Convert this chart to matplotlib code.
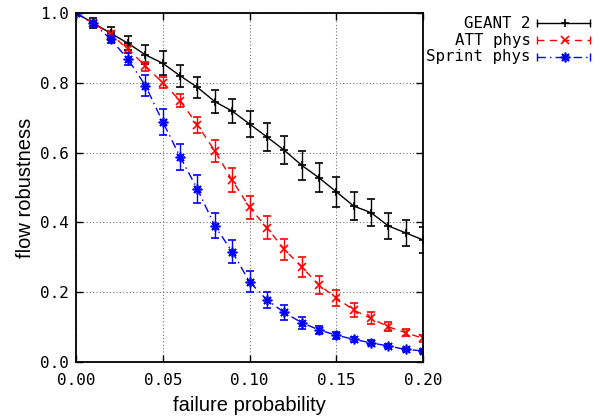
import numpy as np
import matplotlib.pyplot as plt
from matplotlib.lines import Line2D

# ======================================================================
# Data
# ======================================================================
p_fail = [0.00, 0.01, 0.02, 0.03, 0.04, 0.05, 0.06, 0.07, 0.08, 0.09, 0.10,
          0.11, 0.12, 0.13, 0.14, 0.15, 0.16, 0.17, 0.18, 0.19, 0.20]

geant_mean = [1.000, 0.971, 0.942, 0.913, 0.880, 0.856, 0.820, 0.787, 0.746, 0.719, 0.682,
              0.645, 0.607, 0.564, 0.528, 0.488, 0.447, 0.428, 0.390, 0.370, 0.350]
geant_err = [0.000, 0.014, 0.019, 0.020, 0.027, 0.034, 0.032, 0.031, 0.033, 0.035, 0.038,
             0.040, 0.041, 0.042, 0.042, 0.043, 0.040, 0.039, 0.038, 0.037, 0.037]

att_mean = [1.000, 0.970, 0.939, 0.896, 0.848, 0.800, 0.749, 0.679, 0.605, 0.521, 0.443,
            0.385, 0.323, 0.273, 0.221, 0.184, 0.149, 0.125, 0.101, 0.084, 0.068]
att_err = [0.000, 0.008, 0.010, 0.012, 0.013, 0.016, 0.018, 0.024, 0.031, 0.034, 0.034,
           0.033, 0.030, 0.029, 0.025, 0.023, 0.020, 0.017, 0.013, 0.010, 0.010]

sprint_mean = [1.000, 0.970, 0.925, 0.867, 0.792, 0.688, 0.588, 0.495, 0.390, 0.316, 0.230,
               0.178, 0.142, 0.113, 0.092, 0.077, 0.065, 0.055, 0.046, 0.036, 0.032]
sprint_err = [0.000, 0.008, 0.012, 0.017, 0.031, 0.038, 0.037, 0.040, 0.036, 0.033, 0.030,
              0.022, 0.021, 0.017, 0.012, 0.010, 0.008, 0.007, 0.006, 0.005, 0.005]

# gnuplot-like point types: plus, cross, asterisk (plus + cross)
series = [
    ("GEANT 2", geant_mean, geant_err, "black", "-", "+", 6),
    ("ATT phys", att_mean, att_err, "red", (0, (5, 4)), "x", 6),
    ("Sprint phys", sprint_mean, sprint_err, "blue", (0, (6, 3, 1, 3)), (8, 2, 0), 7),
]

mono = "DejaVu Sans Mono"
sans = "Liberation Sans"

# ======================================================================
# Plot
# ======================================================================
fig = plt.figure(figsize=(6.0, 4.19), dpi=100)
ax = fig.add_axes([0.1267, 0.136, 0.5783, 0.833])

for name, mean, err, col, ls, mk, ms in series:
    ax.errorbar(p_fail, mean, yerr=err, color=col, linestyle=ls, linewidth=1.0,
                marker=mk, markersize=ms, markeredgewidth=1.2,
                elinewidth=1.0, capsize=3, capthick=1.0)

ax.set_xlim(0, 0.20)
ax.set_ylim(0, 1.0)
ax.set_xticks([0.00, 0.05, 0.10, 0.15, 0.20])
ax.set_yticks([0.0, 0.2, 0.4, 0.6, 0.8, 1.0])
ax.set_xticklabels(["0.00", "0.05", "0.10", "0.15", "0.20"], family=mono, fontsize=11.5)
ax.set_yticklabels(["0.0", "0.2", "0.4", "0.6", "0.8", "1.0"], family=mono, fontsize=11.5)
ax.tick_params(direction="in", top=True, right=True, length=5, width=1.0)
ax.tick_params(axis="x", pad=8)
ax.tick_params(axis="y", pad=5)
ax.grid(True, color="0.45", linestyle=(0, (1, 2)), linewidth=0.8)
for sp in ax.spines.values():
    sp.set_linewidth(1.3)

ax.set_xlabel("failure probability", family=sans, fontsize=14.5, labelpad=6)
ax.set_ylabel("flow robustness", family=sans, fontsize=14.5, labelpad=4)

# Legend outside, gnuplot style: text right-aligned, sample with end caps
leg_y = [0.944, 0.904, 0.864]
for (name, mean, err, col, ls, mk, ms), yy in zip(series, leg_y):
    fig.text(0.885, yy, name, family=mono, fontsize=11.3, ha="right", va="center")
    fig.add_artist(Line2D([0.895, 0.983], [yy, yy], transform=fig.transFigure,
                          color=col, linestyle=ls, linewidth=1.0))
    fig.add_artist(Line2D([0.895, 0.983], [yy, yy], transform=fig.transFigure,
                          color=col, linestyle="none", marker="|", markersize=6))
    fig.add_artist(Line2D([0.941], [yy], transform=fig.transFigure,
                          color=col, linestyle="none", marker=mk, markersize=ms,
                          markeredgewidth=1.2))

fig.savefig("out.png", dpi=100)
